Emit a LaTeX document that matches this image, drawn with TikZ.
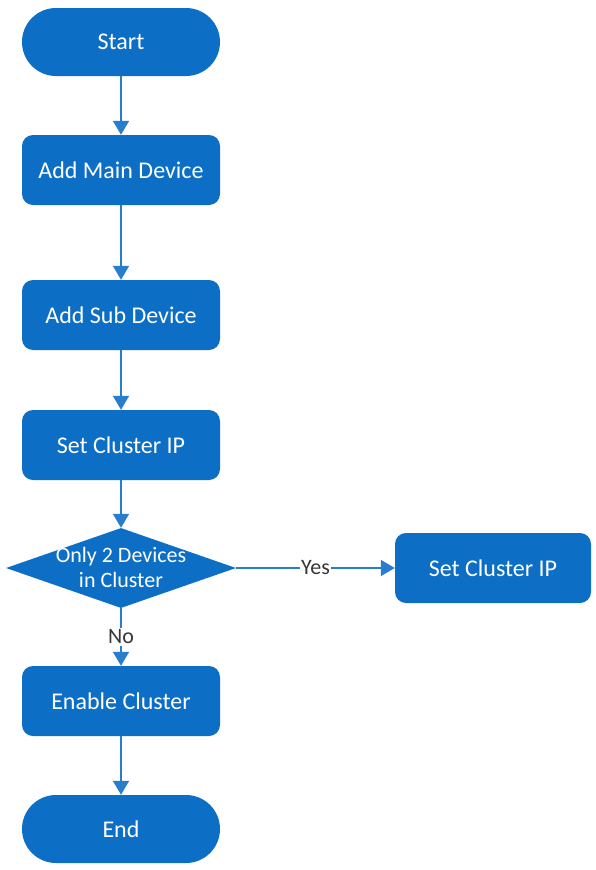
\documentclass[tikz,border=0pt]{standalone}
\usepackage{fontspec}
\setmainfont{Carlito}
\usetikzlibrary{shapes.geometric,arrows.meta}
\definecolor{flowblue}{RGB}{12,110,196}
\definecolor{lineblue}{RGB}{40,125,205}
\definecolor{labelgray}{RGB}{55,55,55}
\tikzset{
  boxstyle/.style={rectangle, fill=flowblue, text=white, minimum width=198pt, minimum height=70pt, rounded corners=11pt, inner sep=0pt, font=\fontsize{24}{28}\selectfont},
  pillstyle/.style={boxstyle, minimum height=68pt, rounded corners=34pt},
  decstyle/.style={diamond, fill=flowblue, minimum width=230pt, minimum height=80pt, inner sep=0pt},
  flowarrow/.style={draw=lineblue, line width=1.6pt, -{Triangle[width=16pt,length=14pt]}},
  edgelabel/.style={fill=white, text=labelgray, inner sep=1.5pt, font=\fontsize{22}{26}\selectfont}
}
\begin{document}
\begin{tikzpicture}[x=1pt,y=-1pt]
\useasboundingbox[fill=white] (0,0) rectangle (595,870);
\node[pillstyle] (start) at (121,42) {Start};
\node[boxstyle] (main) at (121,170) {Add Main Device};
\node[boxstyle] (sub) at (121,315) {Add Sub Device};
\node[boxstyle] (setip) at (121,445) {Set Cluster IP};
\node[decstyle] (dec) at (121,568) {};
\node[text=white, align=center, font=\fontsize{22}{25}\selectfont, inner sep=0pt] (dectext) at (121,567) {Only 2 Devices\\in Cluster};
\node[boxstyle, minimum width=196pt] (setip2) at (493,568) {Set Cluster IP};
\node[boxstyle] (enable) at (121,701) {Enable Cluster};
\node[pillstyle] (end) at (121,829) {End};
\draw[flowarrow] (start) -- (main);
\draw[flowarrow] (main) -- (sub);
\draw[flowarrow] (sub) -- (setip);
\draw[flowarrow] (setip) -- (dec.north);
\draw[flowarrow] (dec.east) -- node[edgelabel] (yes) {Yes} (setip2.west);
\draw[flowarrow] (dec.south) -- node[edgelabel] (no) {No} (enable.north);
\draw[flowarrow] (enable) -- (end);
\end{tikzpicture}
\end{document}
